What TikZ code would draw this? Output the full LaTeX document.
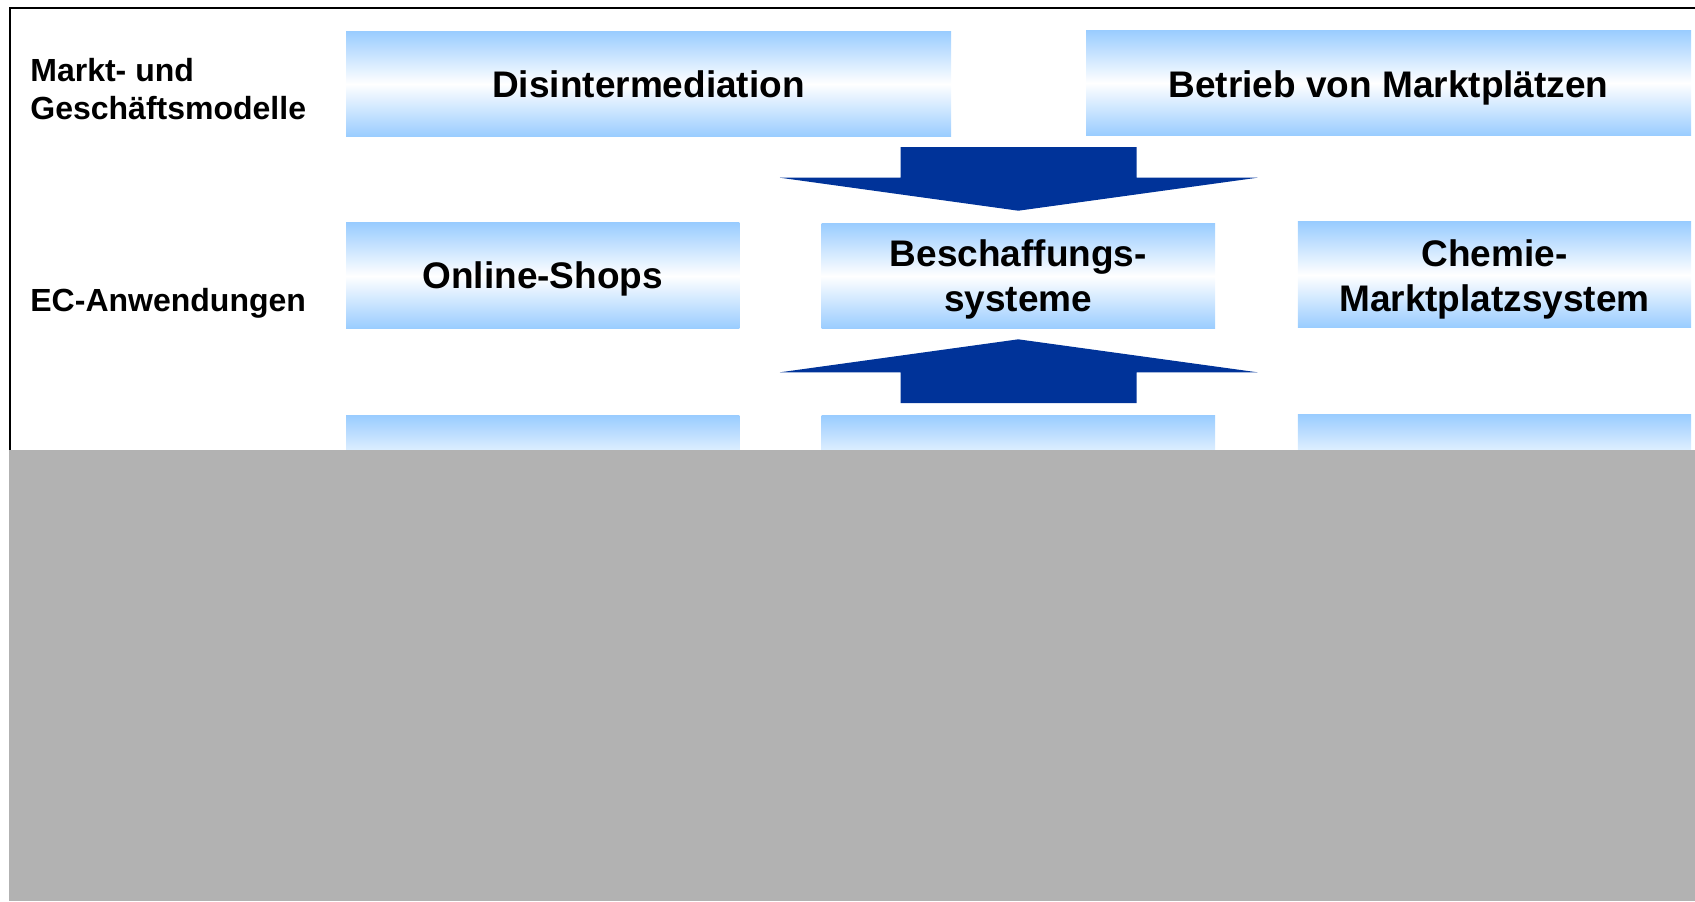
\documentclass[tikz,border=0pt]{standalone}
\usepackage{fontspec}
\setmainfont{Liberation Sans}
\begin{document}
\definecolor{paneltop}{RGB}{153,204,255}
\definecolor{arrowblue}{RGB}{0,51,153}
\definecolor{coverfill}{RGB}{178,178,178}
\begin{tikzpicture}[
  x=0.5pt, y=-0.5pt,
  panel/.style={rectangle, draw=none, inner sep=0pt, outer sep=0pt,
    top color=paneltop, bottom color=paneltop, middle color=white},
  wide/.style={panel, minimum width=302.5pt, minimum height=52.85pt},
  narrow/.style={panel, minimum width=196.7pt, minimum height=52.9pt},
  boxtext/.style={anchor=base, inner sep=0pt, font=\fontsize{18.5pt}{22.5pt}\selectfont\bfseries},
  rowlabel/.style={anchor=base west, inner sep=0pt, font=\fontsize{16pt}{18.8pt}\selectfont\bfseries},
  blockarrow/.style={fill=arrowblue, draw=none}
]
\useasboundingbox (0,0) rectangle (1695,901);

% outer frame
\draw[line width=1pt] (1695,8) -- (10,8) -- (10,901);

% row labels
\node[rowlabel] (lblA1) at (30,81.7) {Markt- und};
\node[rowlabel] (lblA2) at (30,119.3) {Geschäftsmodelle};
\node[rowlabel] (lblB) at (30,311.7) {EC-Anwendungen};

% first row: market and business models
\node[wide] (dis) at (648.5,83.85) {};
\node[boxtext] (disT) at (648.5,97.3) {Disintermediation};
\node[wide] (bet) at (1388.5,82.85) {};
\node[boxtext] (betT) at (1388.5,97.3) {Betrieb von Marktplätzen};

% second row: EC applications
\node[narrow] (shop) at (542.75,275.85) {};
\node[boxtext] (shopT) at (542.75,288.3) {Online-Shops};
\node[narrow] (besch) at (1018.3,276) {};
\node[boxtext] (beschT1) at (1018.3,266.7) {Beschaffungs-};
\node[boxtext] (beschT2) at (1018.3,311.7) {systeme};
\node[narrow] (chem) at (1494.5,274.85) {};
\node[boxtext] (chemT1) at (1494.5,266.7) {Chemie-};
\node[boxtext] (chemT2) at (1494.5,311.7) {Marktplatzsystem};

% third row
\node[narrow] (shopC) at (542.75,468) {};
\node[narrow] (beschC) at (1018.3,468) {};
\node[narrow] (chemC) at (1494.5,467) {};

% block arrows into the procurement box
\fill[blockarrow] (900.5,147) -- (1136.5,147) -- (1136.5,177.7) -- (1257.5,177.7)
  -- (1018.3,210.7) -- (779.9,177.7) -- (900.5,177.7) -- cycle;
\fill[blockarrow] (900.5,403) -- (1136.5,403) -- (1136.5,372.3) -- (1257.5,372.3)
  -- (1018.3,339.3) -- (779.9,372.3) -- (900.5,372.3) -- cycle;

% grey cover over the lower part
\fill[coverfill] (9,450) rectangle (1695,901);
\end{tikzpicture}
\end{document}
